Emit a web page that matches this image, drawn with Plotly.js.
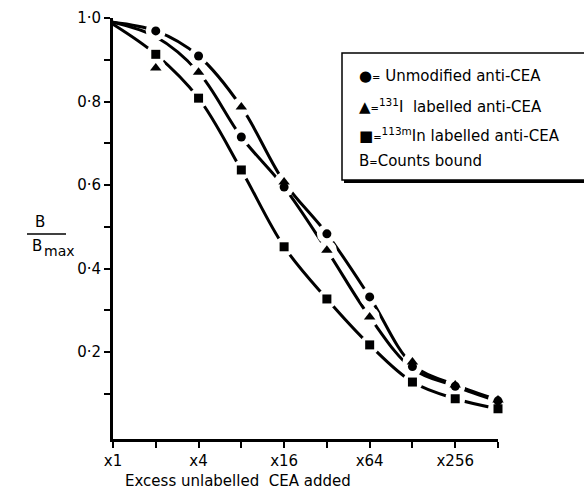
<!DOCTYPE html>
<html><head><meta charset="utf-8">
<script src="https://cdn.plot.ly/plotly-3.0.1.min.js"></script>
<style>html,body{margin:0;padding:0;background:#fff;}#chart{width:584px;height:491px;}</style>
</head><body><div id="chart"></div>
<script>
// Excess of unlabelled CEA (fold)
const excess = [1, 2, 4, 8, 16, 32, 64, 128, 256, 512];
const tickLabels = ["x1", "", "x4", "", "x16", "", "x64", "", "x256", ""];
const yTickVals = [0.1, 0.2, 0.3, 0.4, 0.5, 0.6, 0.7, 0.8, 0.9, 1.0];
const yTickText = ["", "0·2", "", "0·4", "", "0·6", "", "0·8", "", "1·0"];

// Measured points (B/Bmax)
const markerX = [2, 4, 8, 16, 32, 64, 128, 256, 512];
const unmodified = [0.969, 0.909, 0.715, 0.595, 0.483, 0.332, 0.165, 0.118, 0.083];
const iodine131 = [0.880, 0.870, 0.787, 0.607, 0.444, 0.284, 0.176, 0.121, 0.085];
const indium113m = [0.913, 0.808, 0.636, 0.452, 0.327, 0.217, 0.128, 0.088, 0.064];

// Hand-drawn fitted curves
const curveTop = [0.99, 0.969, 0.909, 0.787, 0.607, 0.483, 0.332, 0.170, 0.121, 0.085];
const curveMid = [0.99, 0.955, 0.870, 0.715, 0.595, 0.444, 0.284, 0.160, 0.118, 0.082];
const curveLow = [0.985, 0.913, 0.808, 0.636, 0.452, 0.327, 0.217, 0.128, 0.088, 0.064];

const F = "DejaVu Sans, Liberation Sans, sans-serif";
function curve(y) {
  return {x: excess, y: y, type: 'scatter', mode: 'lines',
    line: {color: '#000', width: 3, shape: 'spline'},
    showlegend: false};
}
function halo(y) {
  return {x: markerX, y: y, type: 'scatter', mode: 'markers',
    marker: {size: 20, color: '#fffffe'},
    showlegend: false};
}
function pts(y, sym, s) {
  return {x: markerX, y: y, type: 'scatter', mode: 'markers',
    marker: {symbol: sym, size: s, color: '#000'},
    showlegend: false, cliponaxis: false};
}
const data = [
  curve(curveTop), curve(curveMid), curve(curveLow),
  halo(unmodified), halo(iodine131), halo(indium113m),
  pts(unmodified, 'circle', 9), pts(iodine131, 'triangle-up', 10), pts(indium113m, 'square', 9)
];

const px = v => (v - 113) / 385;
const py = v => (439 - v) / 421;

const layout = {
  width: 584, height: 491,
  margin: {l: 113, r: 86, t: 18, b: 52},
  paper_bgcolor: '#fff', plot_bgcolor: '#fff',
  font: {family: F, size: 14, color: '#000'},
  xaxis: {type: 'log', range: [0, Math.log10(512)], tickvals: excess, ticktext: tickLabels,
    ticks: 'outside', ticklen: 6, tickwidth: 2, tickcolor: '#000',
    showline: true, linewidth: 3, linecolor: '#000', showgrid: false, zeroline: false,
    tickfont: {family: F, size: 15}},
  yaxis: {range: [-0.0084, 1.0], tickvals: yTickVals, ticktext: yTickText,
    ticks: 'outside', ticklen: 6, tickwidth: 2, tickcolor: '#000',
    showline: true, linewidth: 3, linecolor: '#000', showgrid: false, zeroline: false,
    tickfont: {family: F, size: 15}},
  shapes: [
    {type: 'rect', xref: 'paper', yref: 'paper', x0: px(342), x1: px(600), y0: py(180), y1: py(53),
      line: {color: '#000', width: 1.5}, fillcolor: '#fff'},
    {type: 'line', xref: 'paper', yref: 'paper', x0: px(344), x1: px(600), y0: py(181.5), y1: py(181.5),
      line: {color: '#000', width: 3}},
    {type: 'line', xref: 'paper', yref: 'paper', x0: px(27), x1: px(66), y0: py(234), y1: py(234),
      line: {color: '#000', width: 1.5}}
  ],
  annotations: [
    {xref: 'paper', yref: 'paper', x: px(357), y: py(76), xanchor: 'left', yanchor: 'middle', showarrow: false,
      text: '●<span style="font-size:10px">=</span> Unmodified anti-CEA', font: {family: F, size: 15}},
    {xref: 'paper', yref: 'paper', x: px(357), y: py(106), xanchor: 'left', yanchor: 'middle', showarrow: false,
      text: '▲<span style="font-size:10px">=</span><sup>131</sup>I  labelled anti-CEA', font: {family: F, size: 15}},
    {xref: 'paper', yref: 'paper', x: px(357), y: py(135), xanchor: 'left', yanchor: 'middle', showarrow: false,
      text: '■<span style="font-size:10px">=</span><sup>113m</sup>In labelled anti-CEA', font: {family: F, size: 15}},
    {xref: 'paper', yref: 'paper', x: px(357), y: py(161), xanchor: 'left', yanchor: 'middle', showarrow: false,
      text: 'B<span style="font-size:10px">=</span>Counts bound', font: {family: F, size: 15}},
    {xref: 'paper', yref: 'paper', x: px(40), y: py(222), xanchor: 'center', yanchor: 'middle', showarrow: false,
      text: 'B', font: {family: F, size: 15}},
    {xref: 'paper', yref: 'paper', x: px(30), y: py(246), xanchor: 'left', yanchor: 'middle', showarrow: false,
      text: 'B', font: {family: F, size: 15}},
    {xref: 'paper', yref: 'paper', x: px(42), y: py(251), xanchor: 'left', yanchor: 'middle', showarrow: false,
      text: 'max', font: {family: F, size: 14}},
    {xref: 'paper', yref: 'paper', x: px(238), y: py(481), xanchor: 'center', yanchor: 'middle', showarrow: false,
      text: 'Excess unlabelled  CEA added', font: {family: F, size: 15}}
  ]
};
Plotly.newPlot('chart', data, layout, {displayModeBar: false, staticPlot: true});
</script></body></html>
